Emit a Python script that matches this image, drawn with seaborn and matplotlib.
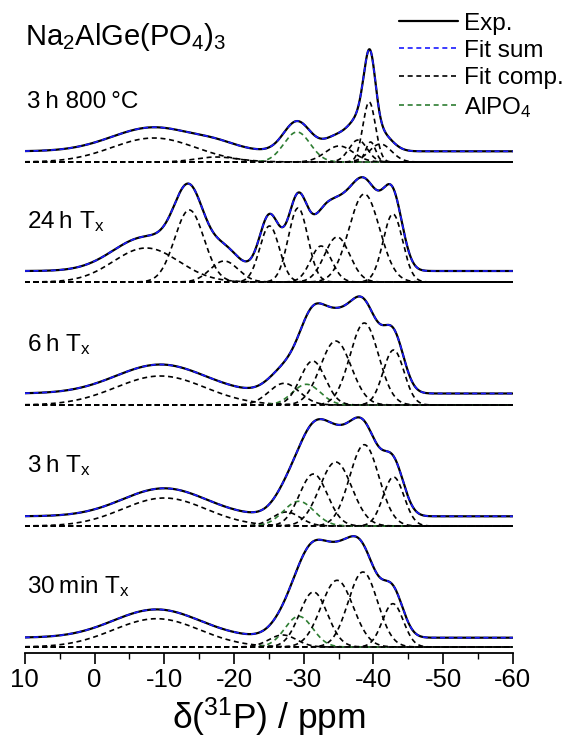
import numpy as np
import pandas as pd
import matplotlib
matplotlib.use("Agg")
import matplotlib.pyplot as plt
import seaborn as sns
from matplotlib.lines import Line2D

# ---------------- data (Gaussian fit components) ----------------
sample_labels = ["3\u2009h 800\u2009°C", "24\u2009h T$_\\mathregular{x}$", "6\u2009h T$_\\mathregular{x}$",
                 "3\u2009h T$_\\mathregular{x}$", "30\u2009min T$_\\mathregular{x}$"]

# 3 h 800 °C
s1_centers = [-8.5, -17.5, -29.05, -35.1, -37.8, -39.4, -39.6, -41.0]
s1_sigmas = [6.0, 3.0, 1.9, 2.0, 1.3, 0.9, 0.7, 1.6]
s1_heights = [24, 5, 30, 16, 22, 60, 20, 18]
s1_alpo4 = [2]
s1_base = 10.7

# 24 h Tx
s2_centers = [-7.4, -13.6, -18.6, -25.1, -29.2, -32.5, -34.8, -38.7, -42.8]
s2_sigmas = [4.7, 2.1, 2.0, 1.4, 1.4, 1.5, 1.8, 2.2, 1.4]
s2_heights = [34, 72, 21, 56, 74, 36, 45, 88, 68]
s2_alpo4 = []
s2_base = 11.0

# 6 h Tx
s3_centers = [-9.45, -27.2, -30.4, -31.3, -34.6, -38.7, -42.9]
s3_sigmas = [6.4, 2.2, 2.0, 1.8, 2.2, 2.05, 1.5]
s3_heights = [29, 21.7, 20.7, 44, 64, 82, 55]
s3_alpo4 = [2]
s3_base = 11.5

# 3 h Tx
s4_centers = [-10.0, -27.5, -29.3, -31.4, -34.6, -38.7, -42.9]
s4_sigmas = [6.0, 2.0, 2.2, 2.0, 2.3, 2.1, 1.5]
s4_heights = [28, 14, 24.7, 52, 64, 81.3, 49]
s4_alpo4 = [2]
s4_base = 9.7

# 30 min Tx
s5_centers = [-8.9, -27.0, -29.3, -31.4, -34.8, -38.5, -42.8]
s5_sigmas = [6.2, 2.0, 2.0, 2.0, 2.3, 2.1, 1.5]
s5_heights = [28.3, 12, 30.7, 55, 66.7, 75, 43.3]
s5_alpo4 = [2]
s5_base = 9.3

xticks = [10, 0, -10, -20, -30, -40, -50, -60]
xtick_labels = ["10", "0", "-10", "-20", "-30", "-40", "-50", "-60"]

# ---------------- layout ----------------
spectra = [
    (s1_centers, s1_sigmas, s1_heights, s1_alpo4, s1_base),
    (s2_centers, s2_sigmas, s2_heights, s2_alpo4, s2_base),
    (s3_centers, s3_sigmas, s3_heights, s3_alpo4, s3_base),
    (s4_centers, s4_sigmas, s4_heights, s4_alpo4, s4_base),
    (s5_centers, s5_sigmas, s5_heights, s5_alpo4, s5_base),
]
offsets = [491, 371, 248, 127, 6]

sns.set_theme(style="white")
plt.rcParams["font.family"] = ["Liberation Sans", "DejaVu Sans"]
plt.rcParams["mathtext.fontset"] = "custom"
plt.rcParams["mathtext.rm"] = "Liberation Sans"
plt.rcParams["mathtext.it"] = "Liberation Sans:italic"
plt.rcParams["text.color"] = "black"
plt.rcParams["axes.labelcolor"] = "black"
plt.rcParams["xtick.color"] = "black"

fig = plt.figure(figsize=(5.68, 7.47), dpi=100)
ax = fig.add_axes([24.8 / 568, 94 / 747, (512.8 - 24.8) / 568, 653 / 747])

ppm = np.linspace(10, -60, 1401)
blue = "#1a1aff"
green = "#2e7d32"
dash = (3.0, 2.2)

for (cen, sig, hgt, alp, base), off in zip(spectra, offsets):
    total = np.zeros_like(ppm)
    comps = []
    for i, (c, s, h) in enumerate(zip(cen, sig, hgt)):
        g = h * np.exp(-((ppm - c) ** 2) / (2 * s * s))
        total += g
        comps.append((i, g))
    for i, g in comps:
        col = green if i in alp else "black"
        df = pd.DataFrame({"ppm": ppm, "y": g + off})
        sns.lineplot(data=df, x="ppm", y="y", ax=ax, color=col, lw=1.2,
                     estimator=None, sort=False,
                     linestyle=(0, dash), zorder=2)
    df = pd.DataFrame({"ppm": ppm, "y": total + base + off})
    sns.lineplot(data=df, x="ppm", y="y", ax=ax, color="black", lw=1.6,
                 estimator=None, sort=False, zorder=3)
    sns.lineplot(data=df, x="ppm", y="y", ax=ax, color=blue, lw=1.2,
                 estimator=None, sort=False, linestyle=(0, dash), zorder=4)

for lab, off in zip(sample_labels, offsets):
    ax.text(9.7, off + 60, lab, fontsize=17.5, ha="left", va="center")
ax.text(9.9, 616, "Na$_\\mathregular{2}$AlGe(PO$_\\mathregular{4}$)$_\\mathregular{3}$",
        fontsize=21, ha="left", va="center")

ax.set_xlim(10, -60)
ax.set_ylim(0, 653)
ax.set_xticks(xticks)
ax.set_xticklabels(xtick_labels)
ax.set_xticks(np.arange(5, -60, -10), minor=True)
ax.set_yticks([])
ax.set_xlabel("δ($^\\mathregular{31}$P) / ppm", fontsize=25.5, labelpad=2)
ax.set_ylabel("")
for s in ["top", "left", "right"]:
    ax.spines[s].set_visible(False)
ax.spines["bottom"].set_linewidth(1.3)
ax.spines["bottom"].set_color("black")
ax.tick_params(axis="x", which="major", direction="out", length=8, width=1.2,
               labelsize=18.5, bottom=True, color="black", pad=3)
ax.tick_params(axis="x", which="minor", direction="out", length=4.5, width=1.0,
               bottom=True, color="black")
ax.set_facecolor("none")

handles = [
    Line2D([], [], color="black", lw=1.6),
    Line2D([], [], color=blue, lw=1.2, linestyle=(0, dash)),
    Line2D([], [], color="black", lw=1.2, linestyle=(0, dash)),
    Line2D([], [], color=green, lw=1.2, linestyle=(0, dash)),
]
labels = ["Exp.", "Fit sum", "Fit comp.", "AlPO$_\\mathregular{4}$"]
fig.legend(handles, labels, loc="upper right", bbox_to_anchor=(1.005, 0.993),
           frameon=False, fontsize=17.5, handlelength=2.4, handletextpad=0.25,
           labelspacing=0.22, borderpad=0.1, borderaxespad=0.2)

fig.savefig("out.png", dpi=100)
